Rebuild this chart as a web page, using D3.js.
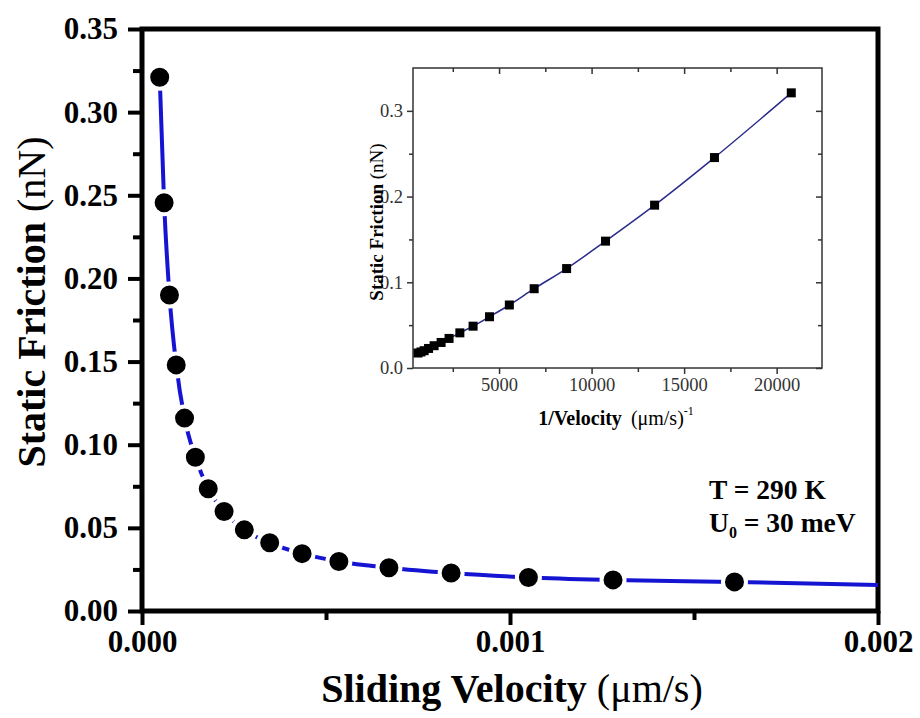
<!DOCTYPE html>
<html>
<head>
<meta charset="utf-8">
<script src="https://cdn.jsdelivr.net/npm/d3@7"></script>
<style>
  body { margin: 0; background: #fff; }
  svg { display: block; font-family: "Liberation Serif", "Times New Roman", serif; }
</style>
</head>
<body>
<div id="chart"></div>
<script>
// sliding velocity (um/s) and static friction (nN)
var velocity = [0.0000481, 0.0000601, 0.0000746, 0.0000930, 0.0001156, 0.000145, 0.00018,
  0.000223, 0.000278, 0.000347, 0.000435, 0.000535, 0.000671, 0.00084, 0.00105, 0.00128, 0.00161];
var friction = [0.321, 0.2455, 0.190, 0.148, 0.116, 0.0925, 0.0735,
  0.0598, 0.0488, 0.041, 0.0345, 0.0298, 0.026, 0.0228, 0.0202, 0.0187, 0.0175];
// fitted curve continues to the right edge
var fitEndVelocity = 0.002;
var fitEndFriction = 0.0157;

var xTicks = [0, 0.001, 0.002];
var yTicks = [0, 0.05, 0.1, 0.15, 0.2, 0.25, 0.3, 0.35];
var insetXTicks = [5000, 10000, 15000, 20000];
var insetYTicks = [0, 0.1, 0.2, 0.3];

var svgWidth = 920;
var svgHeight = 718;
var margin = { top: 29, right: 42, bottom: 107, left: 142 };
var width = svgWidth - margin.left - margin.right;
var height = svgHeight - margin.top - margin.bottom;

var svg = d3.select("#chart").append("svg")
  .attr("width", svgWidth)
  .attr("height", svgHeight);

var chartGroup = svg.append("g")
  .attr("transform", `translate(${margin.left}, ${margin.top})`);

var xScale = d3.scaleLinear().domain([0, 0.002]).range([0, width]);
var yScale = d3.scaleLinear().domain([0, 0.35]).range([height, 0]);

var points = velocity.map((v, i) => ({ v: v, f: friction[i] }));
var fitPoints = points.concat([{ v: fitEndVelocity, f: fitEndFriction }]);

// minor ticks
var yMinor = d3.range(0.025, 0.35, 0.05);
var xMinor = [0.0005, 0.0015];

chartGroup.append("g")
  .attr("transform", `translate(0, ${height})`)
  .call(d3.axisBottom(xScale).tickValues(xMinor).tickSize(9).tickFormat(""))
  .call(g => g.select(".domain").remove())
  .selectAll("line").attr("stroke-width", 4);
chartGroup.append("g")
  .call(d3.axisLeft(yScale).tickValues(yMinor).tickSize(9).tickFormat(""))
  .call(g => g.select(".domain").remove())
  .selectAll("line").attr("stroke-width", 4);

var bottomAxis = chartGroup.append("g")
  .attr("transform", `translate(0, ${height})`)
  .call(d3.axisBottom(xScale).tickValues(xTicks).tickSize(14).tickPadding(5).tickFormat(d3.format(".3f")));
bottomAxis.select(".domain").remove();
bottomAxis.selectAll("line").attr("stroke-width", 4);
bottomAxis.selectAll("text")
  .attr("font-size", 31).attr("font-weight", "bold")
  .attr("font-family", "Liberation Serif, serif").attr("fill", "#000");

var leftAxis = chartGroup.append("g")
  .call(d3.axisLeft(yScale).tickValues(yTicks).tickSize(14).tickPadding(10).tickFormat(d3.format(".2f")));
leftAxis.select(".domain").remove();
leftAxis.selectAll("line").attr("stroke-width", 4);
leftAxis.selectAll("text")
  .attr("font-size", 31).attr("font-weight", "bold")
  .attr("font-family", "Liberation Serif, serif").attr("fill", "#000");

// frame
chartGroup.append("rect")
  .attr("width", width).attr("height", height)
  .attr("fill", "none").attr("stroke", "#000").attr("stroke-width", 5);

// fit line
var fitLine = d3.line()
  .x(d => xScale(d.v))
  .y(d => yScale(d.f))
  .curve(d3.curveMonotoneX);
chartGroup.append("path")
  .datum(fitPoints)
  .attr("d", fitLine)
  .attr("fill", "none")
  .attr("stroke", "#1414d2")
  .attr("stroke-width", 4);

chartGroup.append("g")
  .selectAll("circle")
  .data(points)
  .enter()
  .append("circle")
  .attr("cx", d => xScale(d.v))
  .attr("cy", d => yScale(d.f))
  .attr("r", 11.5)
  .attr("fill", "#000")
  .attr("stroke", "#fff")
  .attr("stroke-width", 4);

// axis titles
var xTitle = svg.append("text")
  .attr("x", 512).attr("y", 702)
  .attr("text-anchor", "middle")
  .attr("font-size", 40);
xTitle.append("tspan").attr("font-weight", "bold").text("Sliding Velocity ");
xTitle.append("tspan").text("(\u03bcm/s)");

var yTitle = svg.append("text")
  .attr("transform", "translate(45, 302) rotate(-90)")
  .attr("text-anchor", "middle")
  .attr("font-size", 40);
yTitle.append("tspan").attr("font-weight", "bold").text("Static Friction ");
yTitle.append("tspan").text("(nN)");

// annotation
svg.append("text")
  .attr("x", 709).attr("y", 499)
  .attr("font-size", 27.5).attr("font-weight", "bold")
  .text("T = 290 K");
var u0 = svg.append("text")
  .attr("x", 709).attr("y", 532)
  .attr("font-size", 27.5).attr("font-weight", "bold");
u0.append("tspan").text("U");
u0.append("tspan").attr("font-size", 16).attr("dy", 6).text("0");
u0.append("tspan").attr("dy", -6).text(" = 30 meV");

// inset: friction against 1/velocity
var inset = { left: 413, top: 68, right: 822, bottom: 368 };
var insetW = inset.right - inset.left;
var insetH = inset.bottom - inset.top;
var insetGroup = svg.append("g")
  .attr("transform", `translate(${inset.left}, ${inset.top})`);

var ixScale = d3.scaleLinear().domain([350, 22450]).range([0, insetW]);
var iyScale = d3.scaleLinear().domain([0, 0.35]).range([insetH, 0]);

var axisColor = "#333";
var ixMinor = [2500, 7500, 12500, 17500];
var iyMinor = [0.05, 0.15, 0.25];

function styleInsetAxis(g) {
  g.select(".domain").remove();
  g.selectAll("line").attr("stroke", axisColor).attr("stroke-width", 1.5);
  g.selectAll("text").attr("font-size", 18.5).attr("fill", axisColor)
    .attr("font-family", "Liberation Serif, serif");
}

insetGroup.append("g").attr("transform", `translate(0, ${insetH})`)
  .call(d3.axisBottom(ixScale).tickValues(insetXTicks).tickSize(6).tickPadding(4).tickFormat(d3.format("d")))
  .call(styleInsetAxis);
insetGroup.append("g").attr("transform", `translate(0, ${insetH})`)
  .call(d3.axisBottom(ixScale).tickValues(ixMinor).tickSize(4).tickFormat(""))
  .call(styleInsetAxis);
insetGroup.append("g")
  .call(d3.axisTop(ixScale).tickValues(insetXTicks).tickSize(-6).tickFormat(""))
  .call(styleInsetAxis);
insetGroup.append("g")
  .call(d3.axisTop(ixScale).tickValues(ixMinor).tickSize(-4).tickFormat(""))
  .call(styleInsetAxis);
insetGroup.append("g")
  .call(d3.axisLeft(iyScale).tickValues(insetYTicks).tickSize(6).tickPadding(4).tickFormat(d3.format(".1f")))
  .call(styleInsetAxis);
insetGroup.append("g")
  .call(d3.axisLeft(iyScale).tickValues(iyMinor).tickSize(4).tickFormat(""))
  .call(styleInsetAxis);
insetGroup.append("g").attr("transform", `translate(${insetW}, 0)`)
  .call(d3.axisRight(iyScale).tickValues(insetYTicks).tickSize(-6).tickFormat(""))
  .call(styleInsetAxis);
insetGroup.append("g").attr("transform", `translate(${insetW}, 0)`)
  .call(d3.axisRight(iyScale).tickValues(iyMinor).tickSize(-4).tickFormat(""))
  .call(styleInsetAxis);

insetGroup.append("rect")
  .attr("width", insetW).attr("height", insetH)
  .attr("fill", "none").attr("stroke", axisColor).attr("stroke-width", 1.5);

var insetFit = fitPoints.map(d => ({ x: 1 / d.v, f: d.f })).sort((a, b) => a.x - b.x);
var insetLine = d3.line()
  .x(d => ixScale(d.x))
  .y(d => iyScale(d.f))
  .curve(d3.curveMonotoneX);
insetGroup.append("path")
  .datum(insetFit)
  .attr("d", insetLine)
  .attr("fill", "none")
  .attr("stroke", "#2b2b8c")
  .attr("stroke-width", 1.5);

insetGroup.append("g")
  .selectAll("rect")
  .data(points)
  .enter()
  .append("rect")
  .attr("x", d => ixScale(1 / d.v) - 4.5)
  .attr("y", d => iyScale(d.f) - 4.5)
  .attr("width", 9)
  .attr("height", 9)
  .attr("fill", "#000");

var ixTitle = svg.append("text")
  .attr("x", 616).attr("y", 425)
  .attr("text-anchor", "middle")
  .attr("font-size", 20);
ixTitle.append("tspan").attr("font-weight", "bold").text("1/Velocity");
ixTitle.append("tspan").attr("dx", 9).text("(\u03bcm/s)");
ixTitle.append("tspan").attr("font-size", 12).attr("dy", -10).text("-1");

var iyTitle = svg.append("text")
  .attr("transform", "translate(383, 222) rotate(-90)")
  .attr("text-anchor", "middle")
  .attr("font-size", 19);
iyTitle.append("tspan").attr("font-weight", "bold").text("Static Friction ");
iyTitle.append("tspan").text("(nN)");
</script>
</body>
</html>
